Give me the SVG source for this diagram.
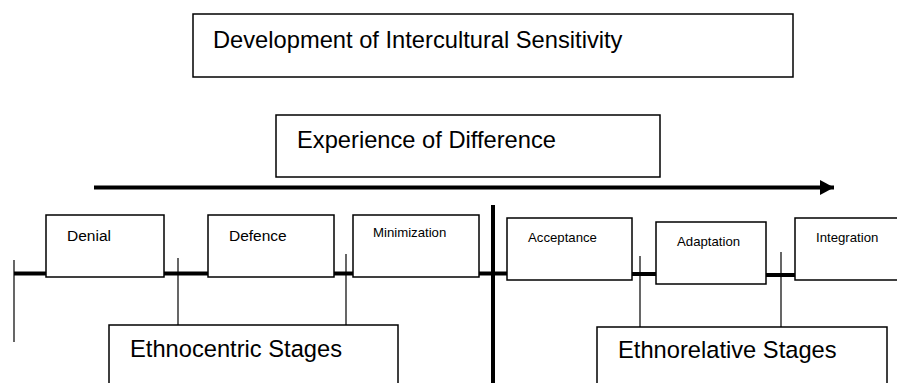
<svg xmlns="http://www.w3.org/2000/svg" width="897" height="383" viewBox="0 0 897 383">
<defs>
<style>
.box{fill:#fff;stroke:#000;stroke-width:1.5}
.thick{stroke:#000;stroke-width:4;fill:none}
.thin{stroke:#000;stroke-width:1.2;fill:none}
text{font-family:"Liberation Sans",Arial,sans-serif;fill:#000}
.big{font-size:23.7px}
.mid{font-size:15.5px}
.sm{font-size:13.2px}
</style>
<marker id="ah" markerWidth="16" markerHeight="16" refX="14" refY="8" orient="auto" markerUnits="userSpaceOnUse">
<path d="M0,0.5 L14,8 L0,15.5 Z" fill="#000"/>
</marker>
</defs>
<g id="connectors">
<line class="thick" x1="94" y1="187.5" x2="834" y2="187.5" marker-end="url(#ah)"/>
<line class="thick" x1="493" y1="205" x2="493" y2="383"/>
<line class="thin" x1="14" y1="260" x2="14" y2="342"/>
<line class="thick" x1="14" y1="273.5" x2="46" y2="273.5"/>
<line class="thick" x1="164" y1="273.5" x2="208" y2="273.5"/>
<line class="thick" x1="334" y1="273.5" x2="353" y2="273.5"/>
<line class="thick" x1="479" y1="273.5" x2="507" y2="273.5"/>
<line class="thick" x1="632" y1="274" x2="656" y2="274"/>
<line class="thick" x1="766" y1="275" x2="795" y2="275"/>
<line class="thin" x1="178" y1="258" x2="178" y2="325"/>
<line class="thin" x1="346" y1="254" x2="346" y2="325"/>
<line class="thin" x1="640" y1="256" x2="640" y2="327"/>
<line class="thin" x1="781" y1="252" x2="781" y2="327"/>
</g>
<g id="title">
<rect class="box" x="193" y="14" width="600" height="63"/>
<text class="big" x="213" y="48">Development of Intercultural Sensitivity</text>
</g>
<g id="experience">
<rect class="box" x="276" y="115" width="384" height="62"/>
<text class="big" x="297" y="148">Experience of Difference</text>
</g>
<g id="denial">
<rect class="box" x="46" y="215" width="118" height="62"/>
<text class="mid" x="67" y="241">Denial</text>
</g>
<g id="defence">
<rect class="box" x="208" y="215" width="126" height="62"/>
<text class="mid" x="229" y="241">Defence</text>
</g>
<g id="minimization">
<rect class="box" x="353" y="215" width="126" height="62"/>
<text class="sm" x="373" y="237">Minimization</text>
</g>
<g id="acceptance">
<rect class="box" x="507" y="218" width="125" height="62"/>
<text class="sm" x="528" y="242">Acceptance</text>
</g>
<g id="adaptation">
<rect class="box" x="656" y="222" width="110" height="62"/>
<text class="sm" x="677" y="246">Adaptation</text>
</g>
<g id="integration">
<rect class="box" x="795" y="218" width="120" height="62"/>
<text class="sm" x="816" y="242">Integration</text>
</g>
<g id="ethnocentric">
<rect class="box" x="109" y="325" width="289" height="80"/>
<text class="big" x="130" y="357">Ethnocentric Stages</text>
</g>
<g id="ethnorelative">
<rect class="box" x="597" y="327" width="290" height="80"/>
<text class="big" x="618" y="358">Ethnorelative Stages</text>
</g>
</svg>
